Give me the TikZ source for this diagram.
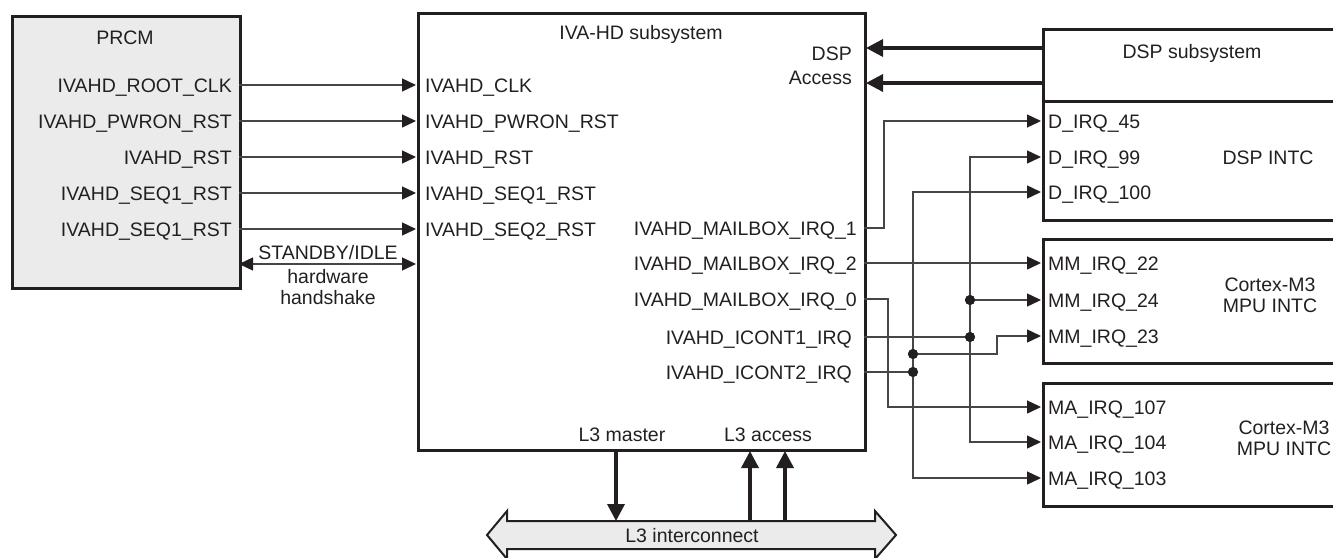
\documentclass[tikz,border=0pt]{standalone}
\usepackage{fontspec}
\setmainfont{Liberation Sans}
\usetikzlibrary{arrows.meta}
\definecolor{txt}{RGB}{35,31,32}
\definecolor{boxfill}{RGB}{235,235,235}
\definecolor{wirec}{RGB}{70,70,70}
\begin{document}
\begin{tikzpicture}[x=1pt,y=-1pt,
  lbl/.style={inner sep=0pt, text height=14pt, text depth=0pt, font=\fontsize{19.5}{22}\selectfont, text=txt},
  blk/.style={draw=txt, line width=3pt, inner sep=0pt, anchor=north west},
  wireline/.style={draw=wirec, line width=1.4pt},
  wire/.style={wireline, -{Triangle[length=14pt,width=13pt,color=txt]}},
  dwire/.style={wireline, {Triangle[length=14pt,width=13pt,color=txt]}-{Triangle[length=14pt,width=13pt,color=txt]}},
  fat/.style={draw=txt, line width=3.5pt, -{Triangle[length=17pt,width=17pt]}},
  jdot/.style={circle, fill=txt, inner sep=0pt, minimum size=10pt}
]
\useasboundingbox (0,0) rectangle (1333,557);
\begin{scope}
\clip (0,0) rectangle (1333,557);

% ---------------- blocks ----------------
\node[blk, fill=boxfill, minimum width=228pt, minimum height=272pt] (prcm) at (11,15) {};
\node[blk, minimum width=447pt, minimum height=437pt] (iva) at (417,12) {};
\node[blk, minimum width=310pt, minimum height=72pt] (dspss) at (1042,28) {};
\node[blk, minimum width=310pt, minimum height=119pt] (dspintc) at (1042,100) {};
\node[blk, minimum width=310pt, minimum height=124pt] (mpu1) at (1042,238) {};
\node[blk, minimum width=310pt, minimum height=123pt] (mpu2) at (1042,382) {};

% ---------------- titles ----------------
\node[lbl] (prcmT) at (125,37) {PRCM};
\node[lbl] (ivaT) at (641,32) {IVA-HD subsystem};
\node[lbl, anchor=east] (dspA) at (852,53) {DSP};
\node[lbl, anchor=east] (dspB) at (852,77) {Access};
\node[lbl] (dspssT) at (1192,51) {DSP subsystem};
\node[lbl] (dspintcT) at (1268,157) {DSP INTC};
\node[lbl] (mpu1a) at (1270,284) {Cortex-M3};
\node[lbl] (mpu1b) at (1270,305) {MPU INTC};
\node[lbl] (mpu2a) at (1284,427) {Cortex-M3};
\node[lbl] (mpu2b) at (1284,448) {MPU INTC};
\node[lbl] (l3m) at (622,434) {L3 master};
\node[lbl] (l3a) at (768,434) {L3 access};

% ---------------- PRCM labels ----------------
\node[lbl, anchor=east] (pl1) at (232,85) {IVAHD\_ROOT\_CLK};
\node[lbl, anchor=east] (pl2) at (232,121) {IVAHD\_PWRON\_RST};
\node[lbl, anchor=east] (pl3) at (232,157) {IVAHD\_RST};
\node[lbl, anchor=east] (pl4) at (232,193) {IVAHD\_SEQ1\_RST};
\node[lbl, anchor=east] (pl5) at (232,229) {IVAHD\_SEQ1\_RST};

% ---------------- IVA input labels ----------------
\node[lbl, anchor=west] (il1) at (425,85) {IVAHD\_CLK};
\node[lbl, anchor=west] (il2) at (425,121) {IVAHD\_PWRON\_RST};
\node[lbl, anchor=west] (il3) at (425,157) {IVAHD\_RST};
\node[lbl, anchor=west] (il4) at (425,193) {IVAHD\_SEQ1\_RST};
\node[lbl, anchor=west] (il5) at (425,229) {IVAHD\_SEQ2\_RST};

% ---------------- IVA output labels ----------------
\node[lbl, anchor=east] (ol1) at (857,228) {IVAHD\_MAILBOX\_IRQ\_1};
\node[lbl, anchor=east] (ol2) at (857,263) {IVAHD\_MAILBOX\_IRQ\_2};
\node[lbl, anchor=east] (ol3) at (857,299) {IVAHD\_MAILBOX\_IRQ\_0};
\node[lbl, anchor=east] (ol4) at (852,337) {IVAHD\_ICONT1\_IRQ};
\node[lbl, anchor=east] (ol5) at (852,372) {IVAHD\_ICONT2\_IRQ};

% ---------------- INTC labels ----------------
\node[lbl, anchor=west] (dl1) at (1048,121) {D\_IRQ\_45};
\node[lbl, anchor=west] (dl2) at (1048,157) {D\_IRQ\_99};
\node[lbl, anchor=west] (dl3) at (1048,192) {D\_IRQ\_100};
\node[lbl, anchor=west] (ml1) at (1048,263) {MM\_IRQ\_22};
\node[lbl, anchor=west] (ml2) at (1048,300) {MM\_IRQ\_24};
\node[lbl, anchor=west] (ml3) at (1048,336) {MM\_IRQ\_23};
\node[lbl, anchor=west] (al1) at (1048,407) {MA\_IRQ\_107};
\node[lbl, anchor=west] (al2) at (1048,442) {MA\_IRQ\_104};
\node[lbl, anchor=west] (al3) at (1048,478) {MA\_IRQ\_103};

% ---------------- ports ----------------
\foreach \n/\y in {1/85,2/121,3/157,4/193,5/229,6/264}{
  \coordinate (po\n) at (239,\y);
  \coordinate (pi\n) at (416,\y);
}
\coordinate (mb1) at (864,228);
\coordinate (mb2) at (864,263);
\coordinate (mb0) at (864,299);
\coordinate (ic1) at (864,337);
\coordinate (ic2) at (864,372);
\coordinate (d45) at (1041,121);
\coordinate (d99) at (1041,157);
\coordinate (d100) at (1041,192);
\coordinate (mm22) at (1041,263);
\coordinate (mm24) at (1041,300);
\coordinate (mm23) at (1041,336);
\coordinate (ma107) at (1041,407);
\coordinate (ma104) at (1041,442);
\coordinate (ma103) at (1041,478);

% ---------------- PRCM -> IVA ----------------
\foreach \n in {1,...,5}{ \draw[wire] (po\n) -- (pi\n); }
\draw[dwire] (po6) -- (pi6);
\node[lbl] (sb1) at (328,252) {STANDBY/IDLE};
\node[lbl] (sb2) at (328,276) {hardware};
\node[lbl] (sb3) at (328,297) {handshake};

% ---------------- DSP access ----------------
\coordinate (dsa1) at (1042,48);
\coordinate (dsa2) at (1042,83);
\coordinate (dsb1) at (866,48);
\coordinate (dsb2) at (866,83);
\draw[fat] (dsa1) -- (dsb1);
\draw[fat] (dsa2) -- (dsb2);

% ---------------- interrupt wiring ----------------
\draw[wire] (mb1) -- ++(20,0) |- (d45);
\draw[wire] (mb2) -- (mm22);
\draw[wire] (mb0) -- ++(24,0) |- (ma107);

\node[jdot] (ja) at (970,337) {};
\node[jdot] (jb) at (970,300) {};
\draw[wireline] (ic1) -- (ja.center);
\draw[wire] (ja.center) |- (d99);
\draw[wire] (ja.center) |- (ma104);
\draw[wire] (jb.center) -- (mm24);

\node[jdot] (jc) at (913,372) {};
\node[jdot] (jd) at (913,354) {};
\draw[wireline] (ic2) -- (jc.center);
\draw[wire] (jc.center) |- (d100);
\draw[wire] (jc.center) |- (ma103);
\draw[wire] (jd.center) -- ++(84,0) |- (mm23);
\node[jdot] at (ja) {};
\node[jdot] at (jb) {};
\node[jdot] at (jc) {};
\node[jdot] at (jd) {};

% ---------------- L3 interconnect ----------------
\draw[draw=txt, fill=boxfill, line width=2pt, line join=miter]
  (507,521) -- (875,521) -- (875,511) -- (896,535) -- (875,559) -- (875,549)
  -- (507,549) -- (507,559) -- (487,535) -- (507,511) -- cycle;
\node[lbl] (l3) at (692,535) {L3 interconnect};
\coordinate (l3mTop) at (616,451);
\coordinate (l3mBot) at (616,521);
\coordinate (l3aBot1) at (750,521);
\coordinate (l3aBot2) at (785,521);
\coordinate (l3aTop1) at (750,451);
\coordinate (l3aTop2) at (785,451);
\draw[fat] (l3mTop) -- (l3mBot);
\draw[fat] (l3aBot1) -- (l3aTop1);
\draw[fat] (l3aBot2) -- (l3aTop2);
\end{scope}
\end{tikzpicture}
\end{document}
